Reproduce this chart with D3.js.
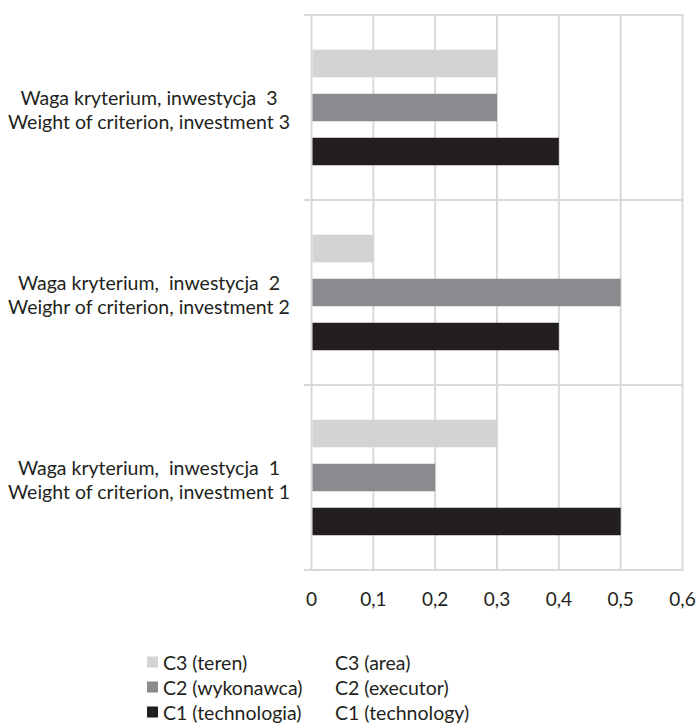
<!DOCTYPE html>
<html>
<head>
<meta charset="utf-8">
<script src="https://cdn.jsdelivr.net/npm/d3@7"></script>
<style>
  html, body { margin: 0; padding: 0; background: #fff; }
  svg { display: block; }
  text { font-family: Lato, "Open Sans", sans-serif; fill: #231f20; white-space: pre; }
</style>
</head>
<body>
<svg id="chart" width="697" height="728"></svg>
<script>
// ---- data ----
const categories = ["inv3", "inv2", "inv1"];
const categoryLines = [
  ["Waga kryterium, inwestycja  3", "Weight of criterion, investment 3"],
  ["Waga kryterium,  inwestycja  2", "Weighr of criterion, investment 2"],
  ["Waga kryterium,  inwestycja  1", "Weight of criterion, investment 1"]
];
const seriesKeys = ["C3", "C2", "C1"];
const seriesLabelsPL = ["C3 (teren)", "C2 (wykonawca)", "C1 (technologia)"];
const seriesLabelsEN = ["C3 (area)", "C2 (executor)", "C1 (technology)"];
const seriesColors = ["#d1d3d4", "#8a8b8e", "#231f20"];
const valuesC3 = [0.3, 0.1, 0.3];
const valuesC2 = [0.3, 0.5, 0.2];
const valuesC1 = [0.4, 0.4, 0.5];
const xTicks = [0, 0.1, 0.2, 0.3, 0.4, 0.5, 0.6];
const xTickLabels = ["0", "0,1", "0,2", "0,3", "0,4", "0,5", "0,6"];

const seriesValues = [valuesC3, valuesC2, valuesC1];

(function () {
const svg = d3.select("#chart");
const pLeft = 311.5, pRight = 682.5, pTop = 15, pBottom = 570;
const gridColor = "#d9d9d9";

const x = d3.scaleLinear().domain([0, 0.6]).range([pLeft, pRight]);
const y = d3.scaleBand().domain(categories).range([pTop, pBottom]).padding(0);
const ySub = d3.scaleBand().domain(seriesKeys).range([0, y.bandwidth()])
  .paddingInner(0.375).paddingOuter(0.79);

// vertical gridlines
svg.append("g").selectAll("line").data(xTicks).join("line")
  .attr("x1", d => x(d)).attr("x2", d => x(d))
  .attr("y1", pTop).attr("y2", pBottom)
  .attr("stroke", gridColor).attr("stroke-width", 2);

// horizontal category boundary lines
const bounds = categories.map(c => y(c)).concat([pBottom]);
svg.append("g").selectAll("line").data(bounds).join("line")
  .attr("x1", pLeft - 7.5).attr("x2", pRight + 1)
  .attr("y1", d => d).attr("y2", d => d)
  .attr("stroke", gridColor).attr("stroke-width", 2);

// bars
categories.forEach((c, ci) => {
  seriesKeys.forEach((s, si) => {
    svg.append("rect")
      .attr("x", x(0) + 1)
      .attr("y", y(c) + ySub(s))
      .attr("width", x(seriesValues[si][ci]) - x(0) - 1)
      .attr("height", ySub.bandwidth())
      .attr("fill", seriesColors[si]);
  });
});

// x tick labels
svg.append("g").selectAll("text").data(xTicks).join("text")
  .attr("x", d => x(d)).attr("y", 598)
  .attr("text-anchor", "middle").attr("dominant-baseline", "central")
  .attr("font-size", 19)
  .text((d, i) => xTickLabels[i]);

// category labels
categories.forEach((c, ci) => {
  const cy = y(c) + y.bandwidth() / 2 + 2;
  const t = svg.append("text").attr("text-anchor", "middle").attr("font-size", 19.5);
  categoryLines[ci].forEach((line, li) => {
    t.append("tspan").attr("x", 149).attr("y", cy + (li === 0 ? -12 : 12))
      .attr("dominant-baseline", "central").text(line);
  });
});

// legend
seriesKeys.forEach((s, si) => {
  const ly = 662 + si * 25;
  svg.append("rect").attr("x", 147).attr("y", ly - 5.5).attr("width", 11).attr("height", 11)
    .attr("fill", seriesColors[si]);
  svg.append("text").attr("x", 163).attr("y", ly).attr("dominant-baseline", "central")
    .attr("font-size", 19.5).text(seriesLabelsPL[si]);
  svg.append("text").attr("x", 335).attr("y", ly).attr("dominant-baseline", "central")
    .attr("font-size", 19.5).text(seriesLabelsEN[si]);
});
})();
</script>
</body>
</html>
